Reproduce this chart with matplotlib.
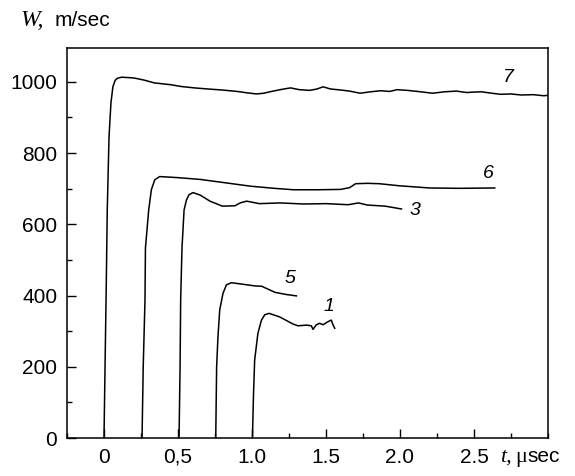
import matplotlib
matplotlib.use("Agg")
import matplotlib.pyplot as plt
from matplotlib.ticker import MultipleLocator, FixedLocator

# ---- data ----
t7 = [0.0, 0.007, 0.015, 0.022, 0.034, 0.047, 0.06, 0.075, 0.09, 0.12, 0.2, 0.27, 0.34,
      0.45, 0.52, 0.61, 0.7, 0.8, 0.9, 0.97, 1.03, 1.08, 1.12, 1.19, 1.26, 1.32, 1.39,
      1.44, 1.48, 1.53, 1.6, 1.66, 1.73, 1.8, 1.87, 1.93, 1.98, 2.05, 2.12, 2.18, 2.22,
      2.3, 2.38, 2.45, 2.49, 2.55, 2.62, 2.68, 2.75, 2.82, 2.9, 2.97, 3.0]
w7 = [0, 200, 420, 640, 846, 941, 986, 1004, 1010, 1013, 1011, 1005, 997,
      992, 987, 983, 980, 977, 973, 969, 966, 968, 972, 978, 983, 978, 976,
      980, 986, 980, 977, 974, 968, 972, 975, 973, 978, 976, 973, 970, 968,
      972, 974, 970, 971, 972, 968, 965, 966, 963, 964, 961, 962]

t6 = [0.257, 0.265, 0.277, 0.28, 0.302, 0.32, 0.343, 0.376, 0.5, 0.65, 0.83, 0.99,
      1.15, 1.28, 1.45, 1.6, 1.66, 1.70, 1.78, 1.86, 2.0, 2.2, 2.4, 2.64]
w6 = [0, 200, 388, 534, 640, 697, 725, 734, 731, 726, 716, 707,
      701, 697, 697, 698, 703, 714, 715, 714, 708, 702, 701, 702]

t3 = [0.507, 0.514, 0.518, 0.527, 0.541, 0.557, 0.574, 0.601, 0.65, 0.716, 0.8, 0.885,
      0.92, 0.964, 1.05, 1.19, 1.35, 1.5, 1.65, 1.72, 1.78, 1.9, 2.01]
w3 = [0, 200, 388, 534, 640, 668, 683, 689, 682, 665, 651, 652,
      660, 665, 658, 660, 657, 658, 655, 660, 654, 651, 643]

t5 = [0.755, 0.761, 0.77, 0.782, 0.804, 0.827, 0.861, 0.95, 1.02, 1.066, 1.155, 1.23, 1.30]
w5 = [0, 200, 284, 360, 406, 430, 436, 431, 427, 426, 409, 403, 399]

t1 = [1.003, 1.01, 1.018, 1.04, 1.064, 1.086, 1.115, 1.187, 1.277, 1.311, 1.368, 1.401,
      1.412, 1.435, 1.457, 1.48, 1.503, 1.525, 1.536, 1.545, 1.559]
w1 = [0, 120, 219, 294, 331, 346, 350, 340, 320, 315, 317, 315,
      305, 318, 322, 318, 324, 329, 331, 320, 308]

curves = [(t7, w7, "7"), (t6, w6, "6"), (t3, w3, "3"), (t5, w5, "5"), (t1, w1, "1")]
label_pos = {"7": (2.73, 1011), "6": (2.6, 744), "3": (2.1, 640), "5": (1.255, 449), "1": (1.518, 368)}

xticks = [0, 0.5, 1.0, 1.5, 2.0, 2.5]
xticklabels = ["0", "0,5", "1.0", "1.5", "2.0", "2.5"]
yticks = [0, 200, 400, 600, 800, 1000]

# ---- figure ----
W, H = 575, 476
fig = plt.figure(figsize=(W / 100, H / 100), dpi=100)
ax = fig.add_axes([67 / W, 1 - 438 / H, (548 - 67) / W, (438 - 48) / H])

for t, w, name in curves:
    ax.plot(t, w, color="black", lw=1.1)
    x, y = label_pos[name]
    ax.text(x, y, name, fontsize=14, fontstyle="italic", family="Liberation Sans",
            ha="center", va="center")

ax.set_xlim(-0.25, 3.0)
ax.set_ylim(0, 1095)
ax.xaxis.set_major_locator(FixedLocator(xticks))
ax.set_xticklabels(xticklabels)
ax.xaxis.set_minor_locator(MultipleLocator(0.25))
ax.set_yticks(yticks)
ax.yaxis.set_minor_locator(MultipleLocator(100))

ax.tick_params(which="both", direction="in", top=False, right=False, width=1.0,
               labelsize=15, pad=7)
ax.tick_params(which="major", length=6.5)
ax.tick_params(which="minor", length=3.5)
for lab in ax.get_xticklabels() + ax.get_yticklabels():
    lab.set_family("Liberation Sans")
for sp in ax.spines.values():
    sp.set_linewidth(1.1)

# axis labels as free text
fig.text(20 / W, 1 - 26 / H, "W,", family="Liberation Serif", fontstyle="italic",
         fontsize=17, va="baseline", ha="left")
fig.text(55 / W, 1 - 26 / H, "m/sec", family="Liberation Sans", fontsize=15,
         va="baseline", ha="left")

fig.text(500 / W, 1 - 462 / H, "t,", family="Liberation Serif", fontstyle="italic",
         fontsize=16, va="baseline", ha="left")
fig.text(515 / W, 1 - 462 / H, "\u03bc", family="Liberation Serif", fontsize=16,
         va="baseline", ha="left")
fig.text(527 / W, 1 - 462 / H, "sec", family="Liberation Sans", fontsize=15,
         va="baseline", ha="left")

fig.savefig("out.png", dpi=100)
